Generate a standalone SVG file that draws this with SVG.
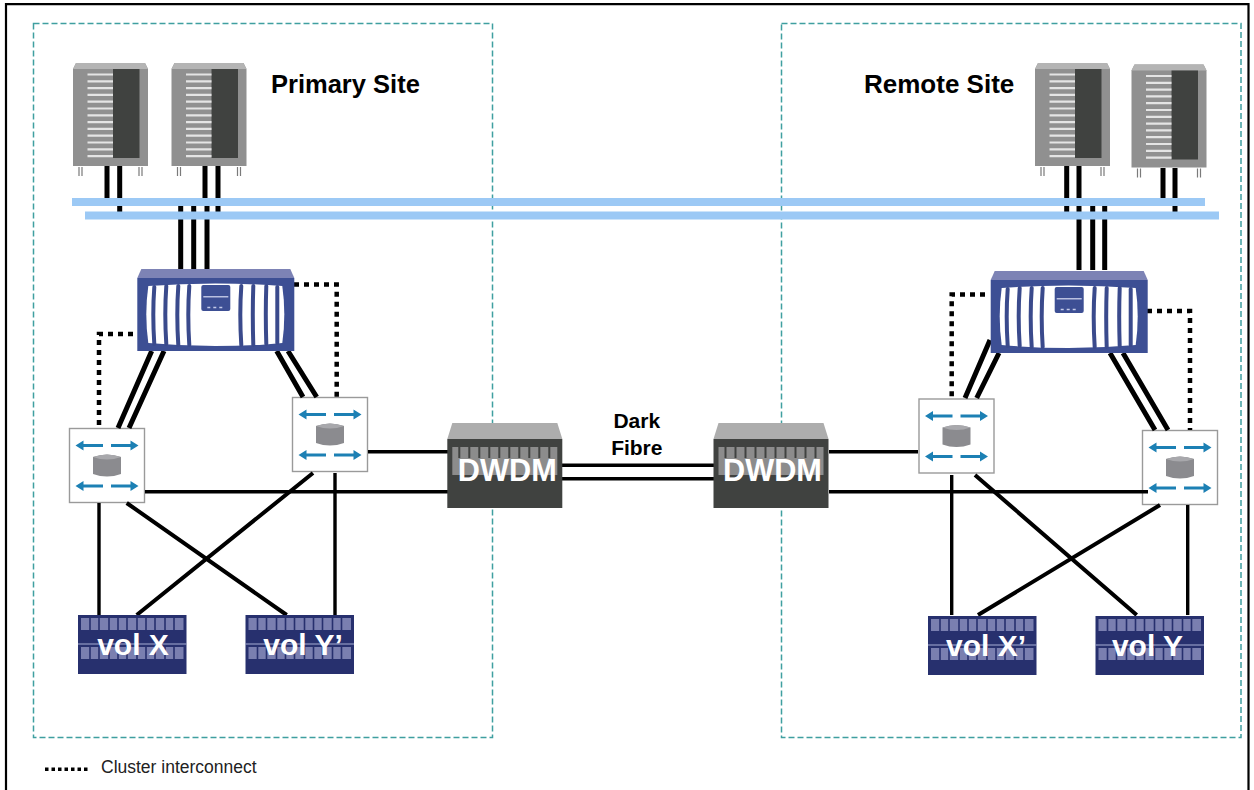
<svg xmlns="http://www.w3.org/2000/svg" width="1254" height="790" viewBox="0 0 1254 790">
<style>
.site{fill:none;stroke:#3f9fa0;stroke-width:1.500;stroke-dasharray:6 3}
.bus{fill:#9cc9f5}
.wire{fill:none;stroke:#000;stroke-width:5}
.thin{fill:none;stroke:#000;stroke-width:3.400}
.diag{fill:none;stroke:#000;stroke-width:4}
.dot{fill:none;stroke:#000;stroke-width:4.500;stroke-dasharray:5 5}
.b{font-family:"Liberation Sans",Arial,sans-serif;font-weight:700}
.w{fill:#fff}
</style>
<defs>
<g id="server">
<path d="M0 6 L3 0 H72 L75 6 V103 H0Z" fill="#909090"/>
<path d="M3 0 H72 L75 6 H0Z" fill="#b4b4b4"/>
<rect x="40" y="6" width="26.500" height="89" fill="#404240"/>
<path d="M14.500 11.500H40M14.500 18.300H40M14.500 25.100H40M14.500 31.900H40M14.500 38.700H40M14.500 45.500H40M14.500 52.300H40M14.500 59.100H40M14.500 65.900H40M14.500 72.700H40M14.500 79.500H40M14.500 86.300H40M14.500 93.100H40" stroke="#e4e4e4" stroke-width="2.200"/>
<path d="M6 104v9M9 104v9M66 104v9M69 104v9" stroke="#7a7a7a" stroke-width="1.200"/>
</g>
<g id="controller">
<path d="M0 9 L4 0 H153 L157 9Z" fill="#7d83b5"/>
<rect y="9" width="157" height="73" fill="#3d4f94"/>
<path d="M11 17 Q78 12 145 17 Q149 45 145 74 Q78 80 11 74 Q7 45 11 17Z" fill="#fff"/>
<path d="M17 18Q15 45 17 75M29 17Q27 45 29 75M41 17Q39 45 41 76M52 17Q50 45 52 76M104 17Q102 45 104 76M116 17Q115 45 116 76M129 17Q128 45 129 75M140 18Q140 45 140 74" fill="none" stroke="#3a4a8c" stroke-width="4" stroke-linecap="round"/>
<rect x="64" y="16" width="29" height="26" rx="2" fill="#3d4f94"/>
<rect x="66" y="27" width="25" height="1.500" fill="#b9c0e0"/>
<path d="M70 38.500h3M76 38.500h3M82 38.500h3" stroke="#c4cae8" stroke-width="1.500"/>
</g>
<g id="switch">
<rect x=".5" y=".5" width="75" height="74" fill="#fff" stroke="#9a9a9a" stroke-width="1.400"/>
<path d="M12 17.500H34M42 17.500H63M12 58H34M42 58H63" stroke="#1c80b4" stroke-width="2.800"/>
<path d="M6.500 17.500l8-5v10ZM69.500 17.500l-8-5v10ZM6.500 58l8-5v10ZM69.500 58l-8-5v10Z" fill="#1c80b4"/>
<path d="M24 29Q38 24 52 29V46Q38 51 24 46Z" fill="#8b8b8f"/>
<path d="M24 29Q38 24 52 29Q38 34 24 29Z" fill="#a8a8ac"/>
</g>
<g id="dwdm">
<path d="M0 16 L5 0 H110 L115 16Z" fill="#adadad"/>
<rect y="16" width="115" height="69" fill="#404240"/>
<rect x="5" y="24" width="105" height="28" fill="#8c8c8c"/>
<path d="M12 24v11M22 24v11M32 24v11M42 24v11M52 24v11M62 24v11M72 24v11M82 24v11M92 24v11M102 24v11" stroke="#404240" stroke-width="2"/>
</g>
<g id="vol">
<rect width="108.500" height="59" fill="#27306e"/>
<rect x="3" y="3" width="102.500" height="12" fill="#7a7fb0"/>
<rect x="3" y="32" width="102.500" height="12" fill="#7a7fb0"/>
<path d="M12 3v12M21 3v12M31 3v12M40 3v12M49 3v12M59 3v12M68 3v12M77 3v12M87 3v12M96 3v12M12 32v12M21 32v12M31 32v12M40 32v12M49 32v12M59 32v12M68 32v12M77 32v12M87 32v12M96 32v12" stroke="#27306e" stroke-width="1.600"/>
<rect y="28.500" width="108.500" height="1" fill="#a8aed4"/>
</g>
</defs>
<rect width="1254" height="790" fill="#fff"/>
<path id="frame" d="M6 790V4.200H1248.500V790" fill="none" stroke="#000" stroke-width="2.200"/>
<g id="primary-site">
<rect class="site" x="33.500" y="23.500" width="459" height="714"/>
<text class="b" x="271" y="93" font-size="25.500">Primary Site</text>
</g>
<g id="remote-site">
<rect class="site" x="781.500" y="23.500" width="459.500" height="714"/>
<text class="b" x="864" y="93" font-size="26">Remote Site</text>
</g>
<g id="switch-p1"><use href="#switch" x="69" y="428"/></g>
<g id="switch-p2"><use href="#switch" x="292" y="397"/></g>
<g id="switch-r1"><use href="#switch" x="918.500" y="398.500"/></g>
<g id="switch-r2"><use href="#switch" x="1142" y="430"/></g>
<g id="connectors">
<path class="wire" d="M107 166V200M119.700 166V213M205 166V200M218 166V213M180.700 206V270M193.700 206V270M207 206V270M1066.700 166V213M1079 166V270M1092.700 206V270M1104.700 206V270M1163 168V200M1175 168V213"/>
<path class="wire" d="M151.700 351L118 428M164 351L129 428M276.700 351L303 397M288 351L316.700 397M990 340L965 398M999 353L976.700 398M1110 353L1155 430M1123 353L1168 430"/>
<path class="dot" d="M133 334H99V428M294 284.500H336.700V397M985 294.500H951.700V398M1147 311H1190V430"/>
<path class="thin" d="M368 451.700H448M145 491.700H448M562 465.300H714M562 478.700H714M829 451.700H918M829 491.700H1148"/>
<path class="thin" d="M99 503V615M335 473V615M951.700 475V615M1187.700 505V615"/>
<path class="diag" d="M126.700 503L286.700 615M313 473L136.700 615M975 475L1136.700 615M1160 505L978 615"/>
</g>
<g id="bus-a"><rect class="bus" x="72" y="198" width="1133" height="8"/></g>
<g id="bus-b"><rect class="bus" x="85" y="211.500" width="1134" height="8"/></g>
<g id="server-p1"><use href="#server" x="73" y="63"/></g>
<g id="server-p2"><use href="#server" x="171.500" y="63"/></g>
<g id="server-r1"><use href="#server" x="1035" y="63"/></g>
<g id="server-r2"><use href="#server" x="1131.500" y="64.500"/></g>
<g id="controller-p"><use href="#controller" x="137.300" y="269"/></g>
<g id="controller-r"><use href="#controller" x="990.700" y="271"/></g>
<g id="dwdm-p"><use href="#dwdm" x="447.300" y="423"/><text class="b w" x="507.300" y="481" font-size="30.700" text-anchor="middle">DWDM</text></g>
<g id="dwdm-r"><use href="#dwdm" x="713.500" y="423"/><text class="b w" x="772.500" y="481" font-size="30.700" text-anchor="middle">DWDM</text></g>
<g id="dark-fibre"><text class="b" x="636.800" y="428" font-size="21" text-anchor="middle">Dark</text><text class="b" x="636.800" y="454.500" font-size="21" text-anchor="middle">Fibre</text></g>
<g id="vol-x"><use href="#vol" x="78" y="615"/><text class="b w" x="133" y="655" font-size="30" text-anchor="middle">vol X</text></g>
<g id="vol-y-prime"><use href="#vol" x="245.500" y="615"/><text class="b w" x="303" y="655" font-size="30" text-anchor="middle">vol Y’</text></g>
<g id="vol-x-prime"><use href="#vol" x="928" y="616"/><text class="b w" x="986" y="656" font-size="30" text-anchor="middle">vol X’</text></g>
<g id="vol-y"><use href="#vol" x="1095.500" y="616"/><text class="b w" x="1147.500" y="656" font-size="30" text-anchor="middle">vol Y</text></g>
<g id="legend">
<path d="M45 769.300H89" stroke="#000" stroke-width="3.500" stroke-dasharray="3.500 3" fill="none"/>
<text x="101" y="772.700" font-family="'Liberation Sans',Arial,sans-serif" font-size="17.500" fill="#222">Cluster interconnect</text>
</g>
</svg>
